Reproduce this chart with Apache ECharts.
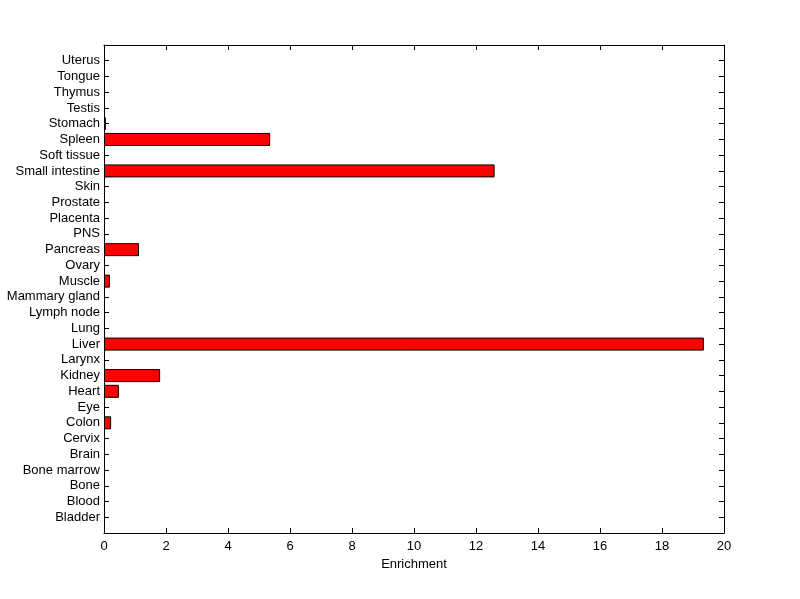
<!DOCTYPE html>
<html>
<head>
<meta charset="utf-8">
<script src="https://cdn.jsdelivr.net/npm/echarts@6/dist/echarts.min.js"></script>
<style>html,body{margin:0;padding:0;background:#fff;}#c{width:800px;height:599px;}</style>
</head>
<body>
<div id="c"></div>
<script>
const categories = ['Bladder','Blood','Bone','Bone marrow','Brain','Cervix','Colon','Eye','Heart','Kidney','Larynx','Liver','Lung','Lymph node','Mammary gland','Muscle','Ovary','Pancreas','PNS','Placenta','Prostate','Skin','Small intestine','Soft tissue','Spleen','Stomach','Testis','Thymus','Tongue','Uterus'];
const enrichment = [0,0,0,0,0,0,0.23,0,0.48,1.81,0,19.35,0,0,0,0.19,0,1.13,0,0,0,0,12.6,0,5.36,0.06,0,0,0,0];
const xTicks = [0,2,4,6,8,10,12,14,16,18,20];

const cats = [''].concat(categories, ['']);
const vals = [null].concat(enrichment.map(v => v === 0 ? null : v), [null]);
const font = 'Liberation Sans, Arial, sans-serif';
const fs = 13;
const chart = echarts.init(document.getElementById('c'));
function xAxisOpt(pos, extra) {
  return Object.assign({
    type: 'value', position: pos, min: xTicks[0], max: xTicks[xTicks.length-1], interval: 2,
    axisLine: {show: true, onZero: false, lineStyle: {color: '#000', width: 1}},
    axisTick: {show: true, inside: true, length: 5, lineStyle: {color: '#000', width: 1}},
    splitLine: {show: false}
  }, extra);
}
function yAxisOpt(pos, extra) {
  return Object.assign({
    type: 'category', position: pos, data: cats, boundaryGap: false,
    axisLine: {show: true, onZero: false, lineStyle: {color: '#000', width: 1}},
    axisTick: {show: true, inside: true, length: 5, lineStyle: {color: '#000', width: 1}},
    splitLine: {show: false}
  }, extra);
}
chart.setOption({
  animation: false,
  backgroundColor: '#fff',
  grid: {left: 104, right: 76, top: 45, bottom: 66, containLabel: false},
  xAxis: [
    xAxisOpt('bottom', {name: 'Enrichment', nameLocation: 'middle', nameGap: 22,
      nameTextStyle: {color: '#000', fontSize: fs, fontFamily: font},
      axisLabel: {color: '#000', fontSize: fs, fontFamily: font, margin: 7}}),
    xAxisOpt('top', {axisLabel: {show: false}})
  ],
  yAxis: [
    yAxisOpt('left', {axisLabel: {color: '#000', fontSize: fs, fontFamily: font, margin: 4, interval: 0}}),
    yAxisOpt('right', {axisLabel: {show: false}})
  ],
  series: [{
    type: 'bar', xAxisIndex: 0, yAxisIndex: 0, data: vals, barWidth: 13,
    itemStyle: {color: '#ff0000', borderColor: '#000', borderWidth: 1}
  }]
});
</script>
</body>
</html>
